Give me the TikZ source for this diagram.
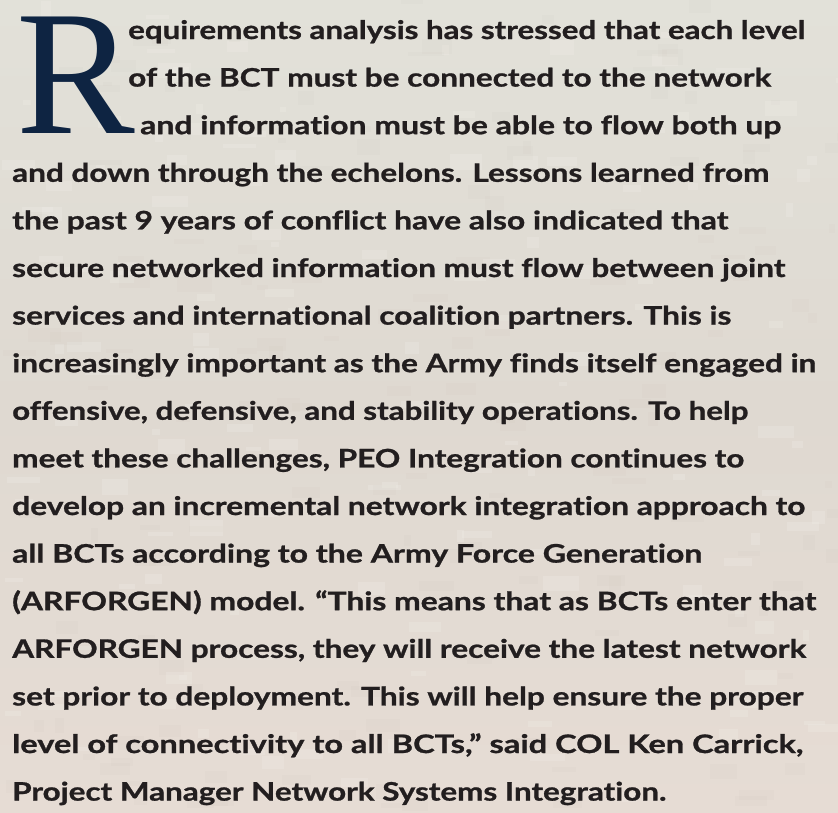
\documentclass[tikz,border=0pt]{standalone}
\usepackage{fontspec}
\usepackage{graphicx}
\setmainfont{Lato}[Ligatures=NoCommon, BoldFeatures={FakeBold=0.9}]
\newfontfamily\capfont{Liberation Serif}

\definecolor{ink}{HTML}{221E1F}
\definecolor{capblue}{HTML}{0E2442}
\definecolor{bgtop}{HTML}{E2E1D9}
\definecolor{bgmid}{HTML}{DFD9D1}
\definecolor{bgbot}{HTML}{E6DCD4}
\definecolor{specklight}{HTML}{F2EFEA}
\definecolor{speckdark}{HTML}{C4BBAF}

\newcommand{\bodyfont}{\fontsize{25.5}{30}\selectfont\bfseries}
% set a line of text stretched or squeezed to a given width
\newcommand{\fitline}[2]{\resizebox{#1pt}{\height}{#2}}

\tikzset{
  bodyline/.style={anchor=base west, inner sep=0pt, text=ink, font=\bodyfont},
  dropcap/.style={anchor=base west, inner sep=0pt, text=capblue,
    text height=118pt, text depth=0pt,
    font=\capfont\fontsize{178}{178}\selectfont},
}

\begin{document}
\begin{tikzpicture}[x=1pt,y=1pt]
  \useasboundingbox (0,0) rectangle (838,-812);

  % paper background with a soft vertical tint
  \shade[top color=bgtop, bottom color=bgbot, middle color=bgmid]
    (0,0) rectangle (838,-812);

  % faint speckled texture
  \pgfmathsetseed{4242}
  \foreach \i in {1,...,320}{
    \pgfmathsetmacro\px{rnd*838}
    \pgfmathsetmacro\py{-rnd*812}
    \pgfmathsetmacro\pw{6+rnd*30}
    \pgfmathsetmacro\ph{4+rnd*12}
    \pgfmathsetmacro\pk{rnd}
    \ifdim\pk pt<0.5pt
      \fill[specklight, opacity=0.25] (\px,\py) rectangle ++(\pw,\ph);
    \else
      \fill[speckdark, opacity=0.07] (\px,\py) rectangle ++(\pw,\ph);
    \fi
  }

  \node[dropcap] (cap) at (16,-133) {R};

  \node[bodyline] (l1)  at (128,-39)   {\fitline{677}{equirements analysis has stressed that each level}};
  \node[bodyline] (l2)  at (128,-86.6) {\fitline{643}{of the BCT must be connected to the network}};
  \node[bodyline] (l3)  at (140,-134.2){\fitline{641}{and information must be able to flow both up}};
  \node[bodyline] (l4)  at (12,-181.8) {\fitline{757}{and down through the echelons. Lessons learned from}};
  \node[bodyline] (l5)  at (12,-229.4) {\fitline{716}{the past 9 years of conflict have also indicated that}};
  \node[bodyline] (l6)  at (12,-277.0) {\fitline{773}{secure networked information must flow between joint}};
  \node[bodyline] (l7)  at (12,-324.6) {\fitline{719}{services and international coalition partners. This is}};
  \node[bodyline] (l8)  at (12,-372.2) {\fitline{804}{increasingly important as the Army finds itself engaged in}};
  \node[bodyline] (l9)  at (12,-419.8) {\fitline{736}{offensive, defensive, and stability operations. To help}};
  \node[bodyline] (l10) at (12,-467.4) {\fitline{732}{meet these challenges, PEO Integration continues to}};
  \node[bodyline] (l11) at (12,-515.0) {\fitline{793}{develop an incremental network integration approach to}};
  \node[bodyline] (l12) at (12,-562.6) {\fitline{690}{all BCTs according to the Army Force Generation}};
  \node[bodyline] (l13) at (12,-610.2) {\fitline{804}{(ARFORGEN) model. “This means that as BCTs enter that}};
  \node[bodyline] (l14) at (12,-657.8) {\fitline{794}{ARFORGEN process, they will receive the latest network}};
  \node[bodyline] (l15) at (12,-705.4) {\fitline{791}{set prior to deployment. This will help ensure the proper}};
  \node[bodyline] (l16) at (12,-753.0) {\fitline{791}{level of connectivity to all BCTs,” said COL Ken Carrick,}};
  \node[bodyline] (l17) at (12,-800.6) {\fitline{654}{Project Manager Network Systems Integration.}};
\end{tikzpicture}
\end{document}
